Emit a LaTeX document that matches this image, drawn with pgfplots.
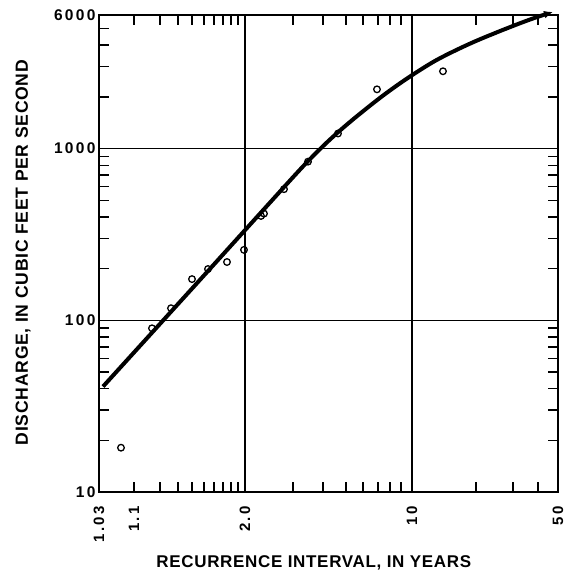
\documentclass[border=0pt]{standalone}
\usepackage{fontspec}
\setmainfont{Liberation Sans}
\newfontfamily\tickfont[LetterSpace=15]{Liberation Sans}
\newfontfamily\labfont[LetterSpace=4]{Liberation Sans}
\usepackage{pgfplots}
\pgfplotsset{compat=1.18}
\usetikzlibrary{arrows.meta}

\begin{document}
\begin{tikzpicture}
\begin{axis}[
  scale only axis, width=459bp, height=477bp,
  xmin=99, xmax=558, ymode=log, ymin=10, ymax=6000,
  clip=false,
  axis line style={line width=2.4bp},
  xtick={245,412}, xticklabels={2.0,10},
  extra x ticks={99,134,558}, extra x tick labels={1.03,1.1,50},
  extra x tick style={grid=none},
  minor xtick={160,178,192,204,214,223,231,238,293,323,346,363,378,390,401,476,513,538},
  ytick={100,1000}, yticklabels={100,1000},
  extra y ticks={10,6000}, extra y tick labels={10,6000},
  extra y tick style={grid=none},
  minor ytick={20,30,40,50,60,70,80,90,200,300,400,500,600,700,800,900,2000,3000,4000,5000},
  xmajorgrids, ymajorgrids,
  major grid style={line width=1.4bp, black},
  tick style={line width=1.4bp, black},
  major tick length=10bp, minor tick length=10bp,
  tick align=inside,
  xticklabel style={rotate=90, anchor=east, font=\tickfont\bfseries\fontsize{15bp}{18bp}\selectfont},
  xticklabel shift=11bp,
  yticklabel style={font=\tickfont\bfseries\fontsize{15.5bp}{18bp}\selectfont},
  xlabel={RECURRENCE INTERVAL, IN YEARS},
  ylabel={DISCHARGE, IN CUBIC FEET PER SECOND},
  xlabel style={at={(axis description cs:0.468,-0.149)}, anchor=center, font=\labfont\bfseries\fontsize{17bp}{20bp}\selectfont},
  ylabel style={at={(axis description cs:-0.1656,0.502)}, anchor=center, rotate=0, font=\labfont\bfseries\fontsize{17.6bp}{20bp}\selectfont},
]
\addplot[black, line width=4bp, smooth, tension=0.6, -{Latex[length=9bp,width=8bp]}] coordinates {
  (103,41.1) (200,172) (280,562) (300,754) (310,868) (320,993) (330,1129) (340,1274)
  (350,1429) (360,1596) (380,1974) (400,2399) (420,2866) (440,3360) (470,4085)
  (500,4833) (530,5643) (553,6250)
};
\addplot[only marks, mark=o, mark size=3.3bp, black, mark options={line width=1.3bp, fill=white}] coordinates {
  (121,18.1) (152,89.8) (171,117.5) (192,173.7) (208,198.8) (227,218.4)
  (244,257) (261,405) (264,418) (284,580) (308,839) (338,1224) (377,2213) (443,2820)
};
\coordinate (bl) at (rel axis cs:-0.2157,-0.1698);
\coordinate (tr) at (rel axis cs:1.0349,1.0314);
\end{axis}
\pgfresetboundingbox
\useasboundingbox (bl) rectangle (tr);
\end{tikzpicture}
\end{document}
